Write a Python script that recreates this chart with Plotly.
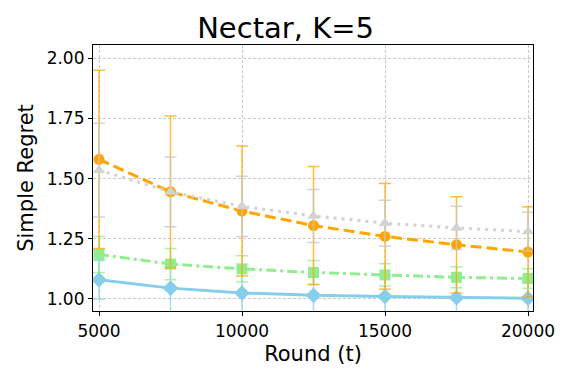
import plotly.graph_objects as go

rounds = [5000, 7500, 10000, 12500, 15000, 17500, 20000]

blue_mean = [1.080, 1.045, 1.025, 1.015, 1.010, 1.005, 1.003]
blue_err = [0.080, 0.110, 0.100, 0.090, 0.085, 0.080, 0.075]

green_mean = [1.185, 1.145, 1.125, 1.110, 1.100, 1.090, 1.085]
green_err = [0.075, 0.065, 0.055, 0.050, 0.046, 0.043, 0.040]

orange_mean = [1.580, 1.445, 1.365, 1.305, 1.260, 1.225, 1.195]
orange_err = [0.370, 0.315, 0.270, 0.245, 0.220, 0.200, 0.188]

grey_mean = [1.535, 1.445, 1.385, 1.345, 1.315, 1.295, 1.280]
grey_err = [0.195, 0.145, 0.125, 0.110, 0.095, 0.090, 0.080]

series = [
    ("blue", blue_mean, blue_err, "#87CEEB", "rgba(135,206,235,0.75)", "solid", "diamond", 12),
    ("green", green_mean, green_err, "#90EE90", "rgba(144,238,144,0.75)", "10px,4px,3px,4px", "square", 11),
    ("orange", orange_mean, orange_err, "#FFA500", "rgba(255,165,0,0.75)", "11px,5px", "circle", 11),
    ("grey", grey_mean, grey_err, "#D3D3D3", "rgba(200,200,200,0.8)", "3px,5px", "triangle-up", 11),
]

fig = go.Figure()
for name, y, err, col, ecol, dash, sym, msize in series:
    fig.add_trace(go.Scatter(
        x=rounds, y=y, name=name, mode="lines+markers",
        line=dict(color=col, width=3, dash=dash),
        marker=dict(symbol=sym, size=msize, color=col),
        error_y=dict(type="data", array=err, visible=True,
                     color=ecol, thickness=1.5, width=6),
        showlegend=False,
    ))

axis_common = dict(
    showline=True, linecolor="black", linewidth=1.2, mirror=True,
    ticks="outside", ticklen=4, tickcolor="black",
    showgrid=True, gridcolor="#c8c8c8", griddash="3px,2px", gridwidth=0.8,
    zeroline=False, tickfont=dict(size=17, color="black"),
)

# page body has an 8px margin, so the figure is a bit smaller than the window
fig.update_layout(
    width=563, height=373,
    margin=dict(l=85, r=38, t=37, b=70),
    plot_bgcolor="white", paper_bgcolor="white",
    font=dict(family="DejaVu Sans", color="black"),
    title=dict(text="Nectar, K=5", x=0.493, xanchor="center", y=0.946, yanchor="middle",
               font=dict(size=29, color="black")),
    xaxis=dict(axis_common, range=[4790, 20175],
               tickvals=[5000, 10000, 15000, 20000], ticktext=["5000", "10000", "15000", "20000"],
               title=dict(text="Round (t)", font=dict(size=21), standoff=6)),
    yaxis=dict(axis_common, range=[0.95, 2.055], tickvals=[1.0, 1.25, 1.5, 1.75, 2.0],
               tickformat=".2f",
               title=dict(text="Simple Regret", font=dict(size=21), standoff=7)),
)

fig.write_html("out.html")
